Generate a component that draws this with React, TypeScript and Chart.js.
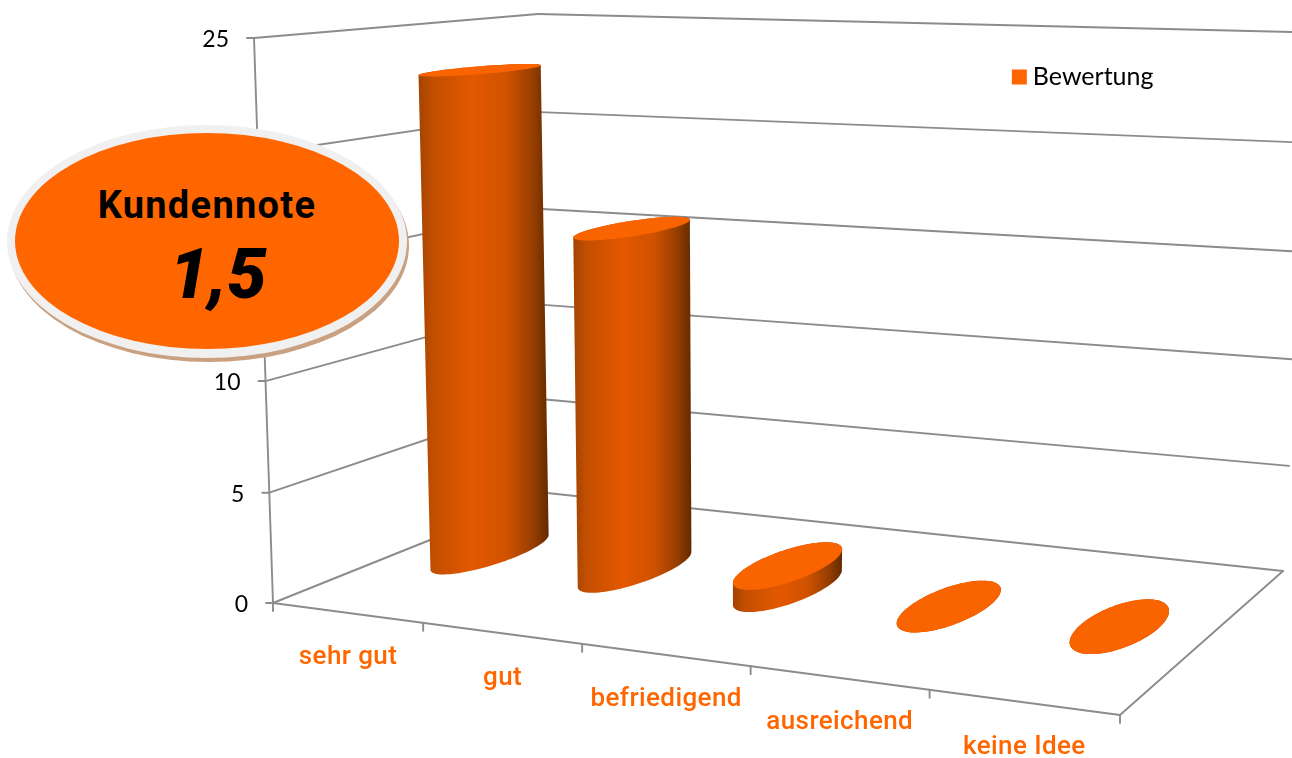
import React, { useEffect, useRef } from "react";
import { Chart, registerables } from "chart.js";

Chart.register(...registerables);

const categories = ["sehr gut", "gut", "befriedigend", "ausreichend", "keine Idee"];
const seriesName = "Bewertung";
const ratings = [23, 16, 1, 0, 0];
const yMax = 25;
const yStep = 5;
const badgeTitle = "Kundennote";
const badgeValue = "1,5";

type Pt = [number, number];

const ORANGE = "#ff6600";
const TOP_FILL = "#fa6400";
const AXIS = "#8c8c8c";

// Screen quads of the floor and of the plane at the top of the value axis:
// front-left, front-right, back-right, back-left.
const FLOOR: Pt[] = [[273, 603], [1120, 715], [1283, 571], [547, 493]];
const CEILING: Pt[] = [[254, 38], [1148, 65], [1314, 32.5], [538, 14]];
const DEPTH_RADIUS = 0.195;
const FORESHORTEN = 0.03;

function quadMap(q: Pt[]) {
  const [[x0, y0], [x1, y1], [x2, y2], [x3, y3]] = q;
  const dx1 = x1 - x2, dx2 = x3 - x2, sx = x0 - x1 + x2 - x3;
  const dy1 = y1 - y2, dy2 = y3 - y2, sy = y0 - y1 + y2 - y3;
  const den = dx1 * dy2 - dx2 * dy1;
  const g = (sx * dy2 - dx2 * sy) / den;
  const h = (dx1 * sy - sx * dy1) / den;
  const a = x1 - x0 + g * x1, b = x3 - x0 + h * x3;
  const d = y1 - y0 + g * y1, e = y3 - y0 + h * y3;
  return (u: number, w: number): Pt => {
    const k = g * u + h * w + 1;
    return [(a * u + b * w + x0) / k, (d * u + e * w + y0) / k];
  };
}
const floorAt = quadMap(FLOOR);
const ceilingAt = quadMap(CEILING);

// u: along the categories, w: depth, v: share of the value axis
function project(u: number, w: number, v: number): Pt {
  const f = floorAt(u, w);
  const c = ceilingAt(u, w);
  const t = v - FORESHORTEN * v * (1 - v);
  return [f[0] + (c[0] - f[0]) * t, f[1] + (c[1] - f[1]) * t];
}

function hull(points: Pt[]): Pt[] {
  const p = [...points].sort((a, b) => a[0] - b[0] || a[1] - b[1]);
  const cross = (o: Pt, a: Pt, b: Pt) => (a[0] - o[0]) * (b[1] - o[1]) - (a[1] - o[1]) * (b[0] - o[0]);
  const lo: Pt[] = [];
  for (const q of p) {
    while (lo.length > 1 && cross(lo[lo.length - 2], lo[lo.length - 1], q) <= 0) lo.pop();
    lo.push(q);
  }
  const up: Pt[] = [];
  for (let i = p.length - 1; i >= 0; i--) {
    const q = p[i];
    while (up.length > 1 && cross(up[up.length - 2], up[up.length - 1], q) <= 0) up.pop();
    up.push(q);
  }
  return lo.slice(0, -1).concat(up.slice(0, -1));
}

function poly(ctx: CanvasRenderingContext2D, pts: Pt[]) {
  ctx.beginPath();
  pts.forEach((p, i) => (i ? ctx.lineTo(p[0], p[1]) : ctx.moveTo(p[0], p[1])));
  ctx.closePath();
}

function seg(ctx: CanvasRenderingContext2D, a: Pt, b: Pt) {
  ctx.beginPath();
  ctx.moveTo(a[0], a[1]);
  ctx.lineTo(b[0], b[1]);
  ctx.stroke();
}

const scene3d = {
  id: "scene3d",
  beforeDatasetsDraw(chart: any) {
    const { ctx, chartArea: area, scales } = chart;
    const yAxis = scales.y;
    const n = chart.data.labels.length;
    ctx.save();
    ctx.strokeStyle = AXIS;
    ctx.lineWidth = 1.9;
    ctx.lineCap = "round";

    // walls
    for (const t of yAxis.ticks) {
      const v = (area.bottom - yAxis.getPixelForValue(t.value)) / area.height;
      const front = project(0, 0, v);
      const back = project(0, 1, v);
      const right = project(1, 1, v);
      seg(ctx, front, back);
      seg(ctx, back, right);
      seg(ctx, [front[0] - 7, front[1]], front);
    }
    seg(ctx, project(0, 0, 0), project(0, 0, 1));

    // floor
    seg(ctx, project(0, 0, 0), project(1, 0, 0));
    seg(ctx, project(1, 0, 0), project(1, 1, 0));
    for (let i = 0; i <= n; i++) {
      const p = project(i / n, 0, 0);
      seg(ctx, p, [p[0], p[1] + 8]);
    }

    // value labels
    ctx.fillStyle = "#000";
    ctx.font = "23px Lato";
    ctx.textAlign = "right";
    ctx.textBaseline = "middle";
    for (const t of yAxis.ticks) {
      const v = (area.bottom - yAxis.getPixelForValue(t.value)) / area.height;
      const p = project(0, 0, v);
      ctx.fillText(String(t.value), p[0] - 25, p[1] + 2);
    }

    // category labels
    ctx.fillStyle = ORANGE;
    ctx.font = "500 26px Roboto";
    ctx.letterSpacing = "0.4px";
    ctx.textAlign = "center";
    chart.data.labels.forEach((label: string, i: number) => {
      const p = project((i + 0.5) / n, 0, 0);
      ctx.fillText(label, p[0] + 1, p[1] + 45);
    });
    ctx.restore();
  },
  beforeDatasetDraw(chart: any, args: any) {
    const { ctx, chartArea: area } = chart;
    const meta = chart.getDatasetMeta(args.index);
    ctx.save();
    for (const bar of meta.data) {
      const u = (bar.x - area.left) / area.width;
      const ru = bar.width / 2 / area.width;
      const vTop = (area.bottom - bar.y) / area.height;
      const vBase = (area.bottom - bar.base) / area.height;
      const ring = (v: number) => {
        const pts: Pt[] = [];
        for (let a = 0; a < 96; a++) {
          const t = (a / 96) * Math.PI * 2;
          pts.push(project(u + ru * Math.cos(t), 0.5 + DEPTH_RADIUS * Math.sin(t), v));
        }
        return pts;
      };
      const top = ring(vTop);
      const body = hull(top.concat(ring(vBase)));
      const xs = body.map((p) => p[0]);
      const x0 = Math.min(...xs), x1 = Math.max(...xs);
      const grad = ctx.createLinearGradient(x0, 0, x1, 0);
      grad.addColorStop(0, "#a34400");
      grad.addColorStop(0.12, "#c44f00");
      grad.addColorStop(0.42, "#e35800");
      grad.addColorStop(0.68, "#d05200");
      grad.addColorStop(0.88, "#963e00");
      grad.addColorStop(1, "#642a00");
      poly(ctx, body);
      ctx.fillStyle = grad;
      ctx.fill();
      poly(ctx, top);
      ctx.fillStyle = TOP_FILL;
      ctx.fill();
    }
    ctx.restore();
    return false;
  },
};

export default function App() {
  const ref = useRef<HTMLCanvasElement>(null);
  useEffect(() => {
    const chart = new Chart(ref.current!, {
      type: "bar",
      data: {
        labels: categories,
        datasets: [
          {
            label: seriesName,
            data: ratings,
            backgroundColor: ORANGE,
            barPercentage: 0.41,
            categoryPercentage: 1,
          },
        ],
      },
      options: {
        responsive: false,
        animation: false,
        layout: { padding: { top: 54.5, right: 128.5 } },
        scales: {
          x: { display: false },
          y: { display: false, min: 0, max: yMax, ticks: { stepSize: yStep } },
        },
        plugins: {
          tooltip: { enabled: false },
          legend: {
            position: "top",
            align: "end",
            labels: {
              font: { family: "Lato", size: 25 },
              color: "#000",
              boxWidth: 2,
              boxHeight: 2,
              generateLabels: (c: any) => [
                {
                  text: c.data.datasets[0].label,
                  fillStyle: ORANGE,
                  strokeStyle: ORANGE,
                  lineWidth: 13,
                  datasetIndex: 0,
                },
              ],
            },
          },
        },
      },
      plugins: [scene3d],
    } as any);
    return () => chart.destroy();
  }, []);

  const oval = (left: number, top: number, w: number, h: number, bg: string): React.CSSProperties => ({
    position: "absolute",
    left,
    top,
    width: w,
    height: h,
    borderRadius: "50%",
    background: bg,
  });

  return (
    <div style={{ position: "absolute", left: 0, top: 0, width: 1292, height: 758, overflow: "hidden", background: "#fff" }}>
      <canvas ref={ref} width={1292} height={758} style={{ display: "block" }} />
      <div style={oval(9, 129, 400, 233, "#c9a080")} />
      <div style={oval(7, 125, 400, 233, "#f0f0f0")} />
      <div style={oval(15, 133, 384, 216, ORANGE)} />
      <div
        style={{
          position: "absolute", left: 15, width: 384, top: 181, textAlign: "center",
          font: "700 38px/48px Roboto", color: "#000", letterSpacing: "1.3px",
        }}
      >
        {badgeTitle}
      </div>
      <div
        style={{
          position: "absolute", left: 26, width: 384, top: 232, textAlign: "center",
          font: "italic 900 70px/84px Roboto", color: "#000",
        }}
      >
        {badgeValue}
      </div>
    </div>
  );
}
